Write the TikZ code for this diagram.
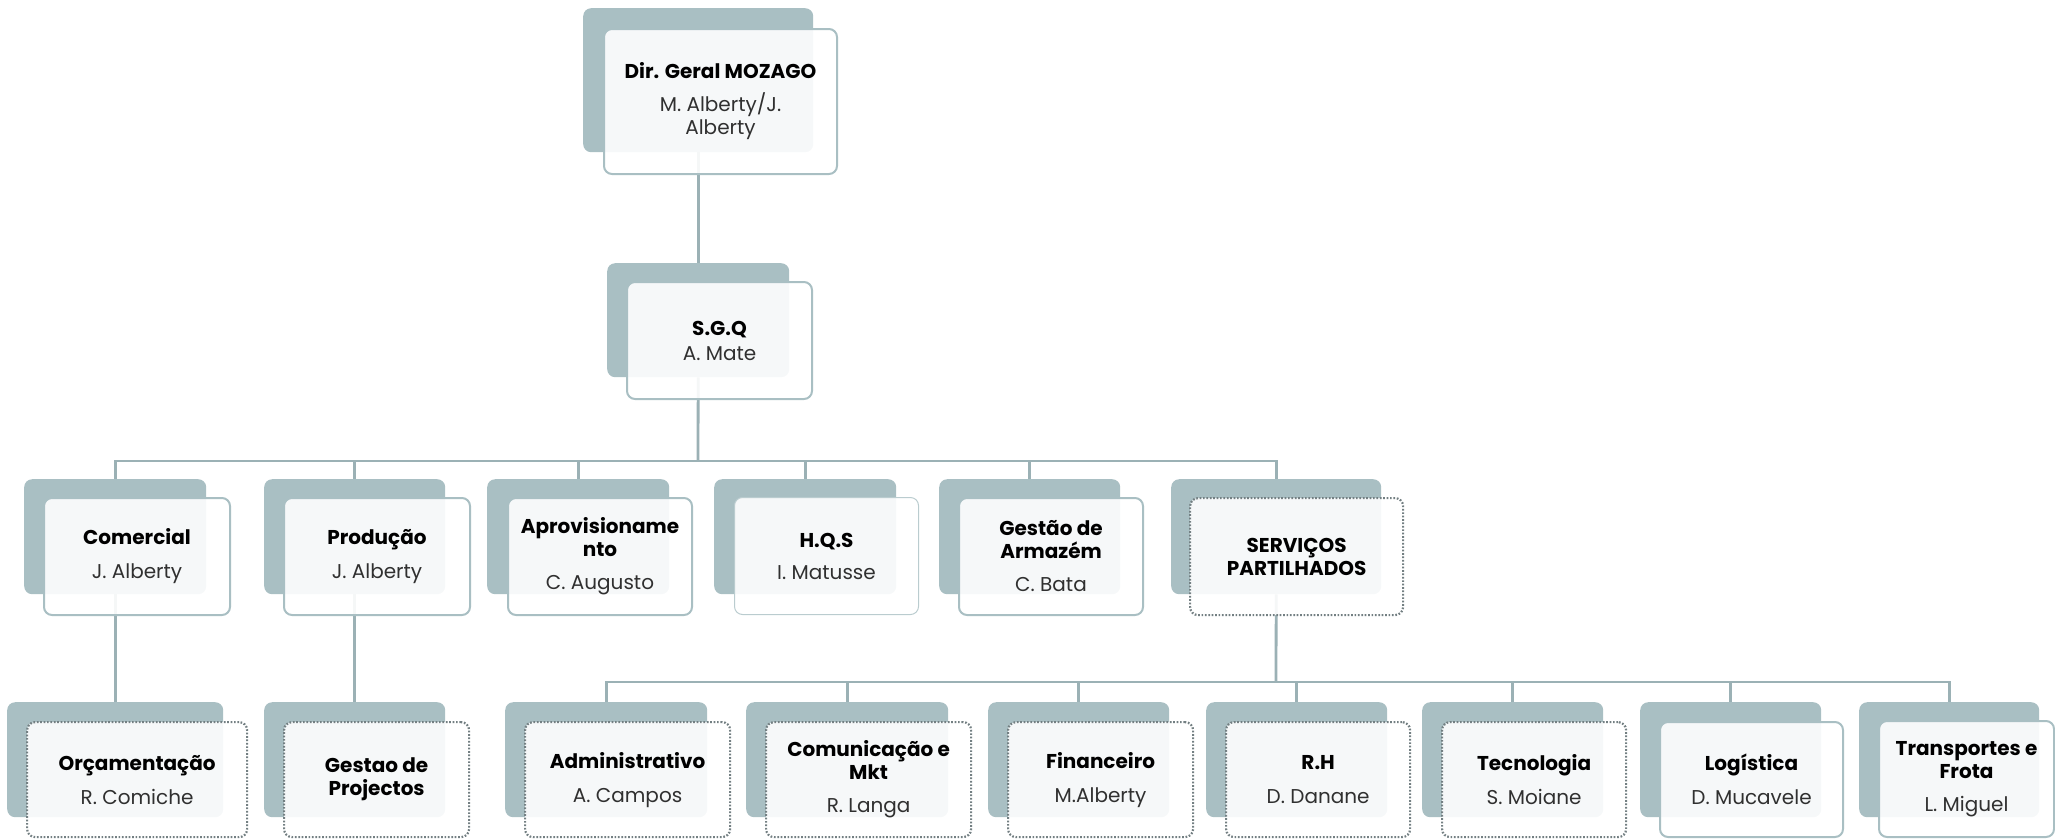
\documentclass[tikz,border=0pt]{standalone}
\usepackage{fontspec}
\setmainfont{Poppins}
\usetikzlibrary{positioning}
\definecolor{cardgray}{HTML}{A9BFC3}
\definecolor{linegray}{HTML}{9BB1B5}
\definecolor{dotgray}{HTML}{737F82}
\definecolor{namegray}{HTML}{303030}

\begin{document}
\begin{tikzpicture}[
    x=1pt, y=-1pt,
    % Styles
    cardback/.style={ % dark card behind each unit
        rectangle,
        rounded corners=8pt,
        fill=cardgray,
        anchor=north west,
        inner sep=0pt,
        minimum width=#1,
        minimum height=115pt
    },
    cardframe/.style={ % light card holding the text
        rectangle,
        rounded corners=8pt,
        draw=cardgray,
        line width=2pt,
        fill=white,
        fill opacity=0.9,
        text opacity=1,
        anchor=north west,
        align=center,
        inner sep=0pt,
        minimum width=#1,
        minimum height=117pt,
        font=\fontsize{20}{23}\selectfont
    },
    dotframe/.style={ % dotted outline
        cardframe=#1,
        draw=dotgray,
        line width=2.2pt,
        dash pattern=on 1.7pt off 1.7pt
    },
    thinframe/.style={ % thin outline
        cardframe=#1,
        line width=1pt,
        draw=cardgray!80
    },
    link/.style={
        draw=linegray,
        line width=2.8pt
    }
]
    \useasboundingbox (0,0) rectangle (2055,839);

    % Back cards
    \node[cardback=230pt, minimum height=144pt] (dirB) at (583,8) {};
    \node[cardback=182pt, minimum height=114pt] (sgqB) at (607,263) {};

    \node[cardback=182pt] (comB) at (24,479) {};
    \node[cardback=181pt] (prodB) at (264,479) {};
    \node[cardback=182pt] (aprovB) at (487,479) {};
    \node[cardback=182pt] (hqsB) at (714,479) {};
    \node[cardback=181pt] (gestB) at (939,479) {};
    \node[cardback=210pt] (servB) at (1171,479) {};

    \node[cardback=216pt] (orcB) at (7,702) {};
    \node[cardback=181pt] (projB) at (264,702) {};
    \node[cardback=202pt] (admB) at (505,702) {};
    \node[cardback=202pt] (comuB) at (746,702) {};
    \node[cardback=181pt] (finB) at (988,702) {};
    \node[cardback=181pt] (rhB) at (1206,702) {};
    \node[cardback=181pt] (tecB) at (1422,702) {};
    \node[cardback=181pt] (logB) at (1640,702) {};
    \node[cardback=180pt] (transpB) at (1859,702) {};

    % Connectors
    \coordinate (bus1) at (698,461);
    \coordinate (bus2) at (1276,682);
    \draw[link] (dirB.south) -- (sgqB.north);
    \draw[link] (sgqB.south) -- (bus1);
    \draw[link] (bus1) -| (comB.north);
    \draw[link] (bus1) -| (prodB.north);
    \draw[link] (bus1) -| (aprovB.north);
    \draw[link] (bus1) -| (hqsB.north);
    \draw[link] (bus1) -| (gestB.north);
    \draw[link] (bus1) -| (servB.north);
    \draw[link] (comB.south) -- (orcB.north);
    \draw[link] (prodB.south) -- (projB.north);
    \draw[link] (servB.south) -- (bus2);
    \draw[link] (bus2) -| (admB.north);
    \draw[link] (bus2) -| (comuB.north);
    \draw[link] (bus2) -| (finB.north);
    \draw[link] (bus2) -| (rhB.north);
    \draw[link] (bus2) -| (tecB.north);
    \draw[link] (bus2) -| (logB.north);
    \draw[link] (bus2) -| (transpB.north);

    % Front cards with text
    \node[cardframe=233pt, minimum height=145pt] (dirF) at ([shift={(20,20)}]dirB.north west)
        {\textbf{Dir. Geral MOZAGO}\\[10pt]\color{namegray}M. Alberty/J.\\\color{namegray}Alberty};
    \node[cardframe=185pt] (sgqF) at ([shift={(19,18)}]sgqB.north west)
        {\textbf{S.G.Q}\\[2pt]\color{namegray}A. Mate};

    \node[cardframe=186pt] (comF) at ([shift={(19,18)}]comB.north west)
        {\textbf{Comercial}\\[11pt]\color{namegray}J. Alberty};
    \node[cardframe=186pt] (prodF) at ([shift={(19,18)}]prodB.north west)
        {\textbf{Produção}\\[11pt]\color{namegray}J. Alberty};
    \node[cardframe=184pt] (aprovF) at ([shift={(20,18)}]aprovB.north west)
        {\textbf{Aprovisioname}\\\textbf{nto}\\[10pt]\color{namegray}C. Augusto};
    \node[thinframe=184pt] (hqsF) at ([shift={(20,18)}]hqsB.north west)
        {\textbf{H.Q.S}\\[9pt]\color{namegray}I. Matusse};
    \node[cardframe=184pt] (gestF) at ([shift={(19,18)}]gestB.north west)
        {\textbf{Gestão de}\\\textbf{Armazém}\\[10pt]\color{namegray}C. Bata};
    \node[dotframe=213pt] (servF) at ([shift={(18,18)}]servB.north west)
        {\textbf{SERVIÇOS}\\\textbf{PARTILHADOS}};

    \node[dotframe=220pt, minimum height=115pt] (orcF) at ([shift={(19,19)}]orcB.north west)
        {\textbf{Orçamentação}\\[11pt]\color{namegray}R. Comiche};
    \node[dotframe=185pt, minimum height=115pt] (projF) at ([shift={(19,19)}]projB.north west)
        {\textbf{Gestao de}\\\textbf{Projectos}};
    \node[dotframe=205pt, minimum height=115pt] (admF) at ([shift={(19,19)}]admB.north west)
        {\textbf{Administrativo}\\[11pt]\color{namegray}A. Campos};
    \node[dotframe=205pt, minimum height=115pt] (comuF) at ([shift={(19,19)}]comuB.north west)
        {\textbf{Comunicação e}\\\textbf{Mkt}\\[10pt]\color{namegray}R. Langa};
    \node[dotframe=185pt, minimum height=115pt] (finF) at ([shift={(19,19)}]finB.north west)
        {\textbf{Financeiro}\\[11pt]\color{namegray}M.Alberty};
    \node[dotframe=184pt, minimum height=115pt] (rhF) at ([shift={(19,19)}]rhB.north west)
        {\textbf{R.H}\\[11pt]\color{namegray}D. Danane};
    \node[dotframe=184pt, minimum height=115pt] (tecF) at ([shift={(19,19)}]tecB.north west)
        {\textbf{Tecnologia}\\[11pt]\color{namegray}S. Moiane};
    \node[cardframe=183pt, minimum height=115pt] (logF) at ([shift={(19,19)}]logB.north west)
        {\textbf{Logística}\\[11pt]\color{namegray}D. Mucavele};
    \node[cardframe=175pt, minimum height=116pt] (transpF) at ([shift={(19,18)}]transpB.north west)
        {\textbf{Transportes e}\\\textbf{Frota}\\[10pt]\color{namegray}L. Miguel};
\end{tikzpicture}
\end{document}
